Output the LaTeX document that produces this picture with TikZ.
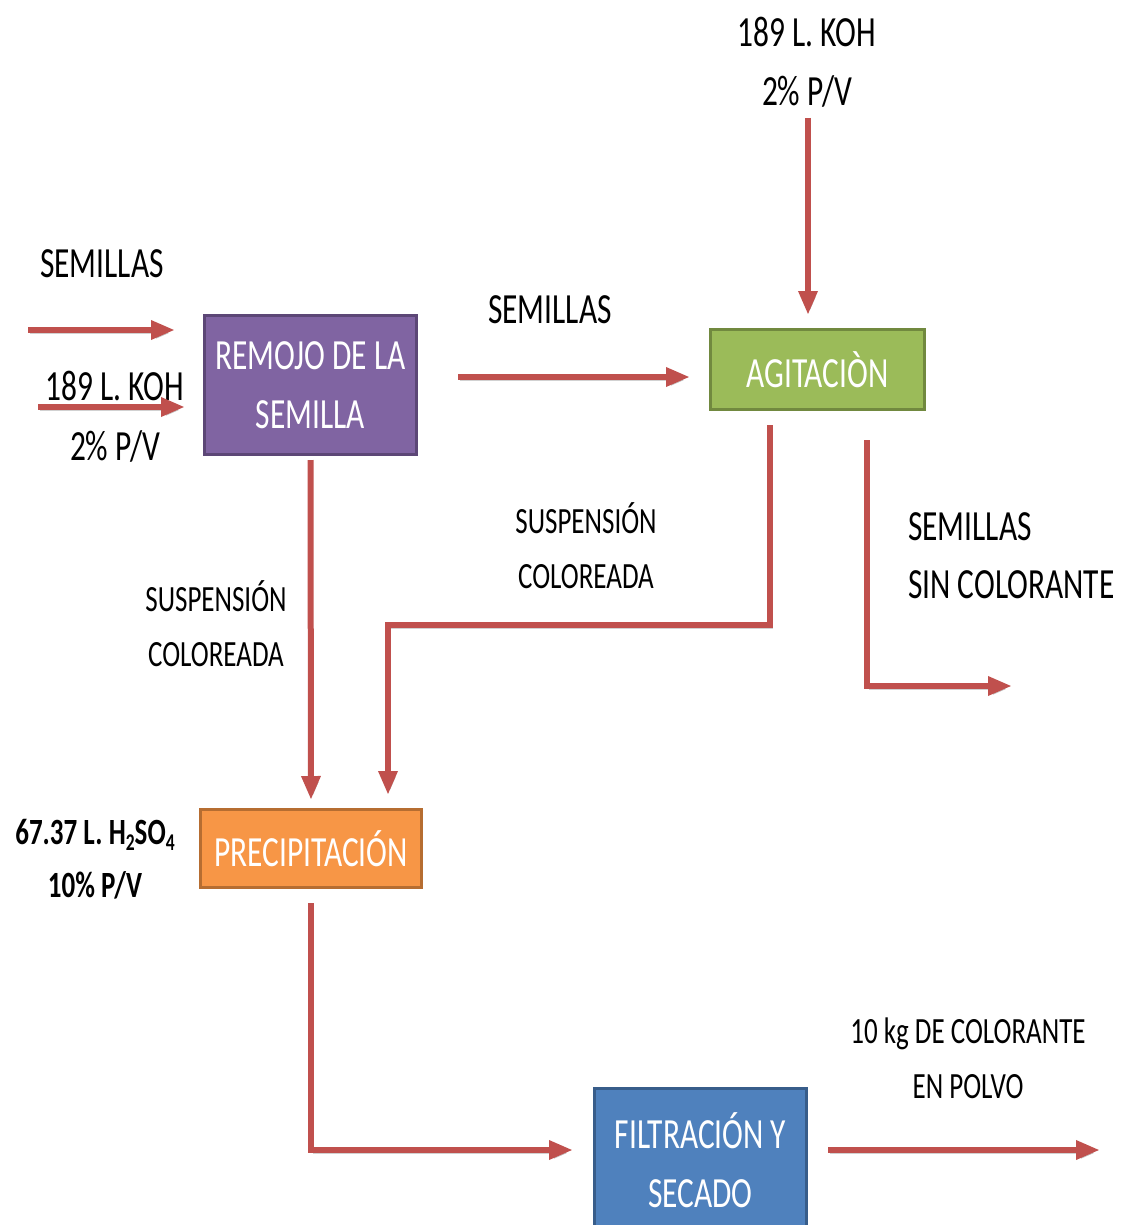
\documentclass[tikz,border=0pt]{standalone}
\usepackage{fontspec}
\setmainfont{Carlito}[FakeStretch=0.73]
\usetikzlibrary{arrows.meta,calc}
\definecolor{arrred}{HTML}{C0504D}
\definecolor{purp}{HTML}{8064A2}
\definecolor{purpd}{HTML}{5C4776}
\definecolor{grn}{HTML}{9BBB59}
\definecolor{grnd}{HTML}{71893F}
\definecolor{orng}{HTML}{F79646}
\definecolor{orngd}{HTML}{B66D31}
\definecolor{blu}{HTML}{4F81BD}
\definecolor{blud}{HTML}{385D8A}
\newcommand\fbig{\fontsize{43}{59}\selectfont}
\newcommand\fmid{\fontsize{37}{55}\selectfont}
\newcommand\fbold{\fontsize{37}{53}\selectfont\bfseries}
\newcommand\subsc[1]{\raisebox{-6pt}{\fontsize{24}{24}\selectfont #1}}
\begin{document}
\begin{tikzpicture}[x=1pt,y=-1pt,
  box/.style={draw, line width=3pt, inner sep=0pt, text=white, font=\fbig, align=center},
  lab/.style={inner sep=0pt, align=center, font=\fbig},
  labm/.style={inner sep=0pt, align=center, font=\fmid},
  arr/.style={draw=arrred, line width=6pt, -{Triangle[width=18pt,length=24pt]},
    preaction={draw=black, opacity=0.18, transform canvas={shift={(2pt,-3pt)}}}}]
\useasboundingbox (0,0) rectangle (1121,1225);
\clip (0,0) rectangle (1121,1225);

% process boxes
\node[box, fill=purp, draw=purpd, minimum width=212pt, minimum height=139pt] (remojo) at (310.5,385) {REMOJO DE LA\\SEMILLA};
\node[box, fill=grn, draw=grnd, minimum width=214pt, minimum height=80pt] (agit) at (817.5,369.5) {AGITACIÒN};
\node[box, fill=orng, draw=orngd, minimum width=221pt, minimum height=78pt] (precip) at (311,848.5) {PRECIPITACIÓN};
\node[box, fill=blu, draw=blud, minimum width=212pt, minimum height=144pt] (filt) at (700.5,1160) {FILTRACIÓN Y\\SECADO};

% labels
\node[lab] (sem1) at (102,264) {SEMILLAS};
\node[lab, font=\fontsize{43}{60}\selectfont] (koh1) at (115,417) {189 L. KOH\\2\% P/V};
\node[lab] (sem2) at (550,310) {SEMILLAS};
\node[lab] (koh2) at (807,62.5) {189 L. KOH\\2\% P/V};
\node[labm] (susp1) at (216,623.5) {SUSPENSIÓN\\COLOREADA};
\node[labm] (susp2) at (586,545.5) {SUSPENSIÓN\\COLOREADA};
\node[lab, align=left, anchor=west, font=\fontsize{43}{58}\selectfont] (sinc) at (908,556) {SEMILLAS\\SIN COLORANTE};
\node[inner sep=0pt, align=center, font=\fbold] (acid) at (95,859.5) {67.37 L. H\subsc{2}SO\subsc{4}\\10\% P/V};
\node[labm] (polvo) at (968,1058.5) {10 kg DE COLORANTE\\EN POLVO};

% free ends
\coordinate (in1) at (28,330);
\coordinate (in2) at (38,407);
\coordinate (out1) at (1012,686);
\coordinate (out2) at (1100,1150);

% connectors
\draw[arr, shorten >=28pt] (in1) -- (in1 -| remojo.west);
\draw[arr, shorten >=18pt] (in2) -- (in2 -| remojo.west);
\draw[arr, shorten <=40pt, shorten >=19pt] (remojo.east |- 0,377) -- (agit.west |- 0,377);
\draw[arr, shorten >=13pt] (koh2.south -| 808,0) ++(0,10) -- (808,0 |- agit.north);
\draw[arr, shorten <=4pt, shorten >=8pt] (remojo.south) -- (precip.north);
\draw[arr, shorten <=14pt, shorten >=13pt] (agit.south -| 770,0) |- (388,625) -- (388,0 |- precip.north);
\draw[arr, shorten <=29pt] (agit.south -| 867,0) |- (out1);
\draw[arr, shorten <=14pt, shorten >=20pt] (precip.south) |- (filt.west |- 0,1150);
\draw[arr, shorten <=20pt] (filt.east |- 0,1150) -- (out2);
\end{tikzpicture}
\end{document}
